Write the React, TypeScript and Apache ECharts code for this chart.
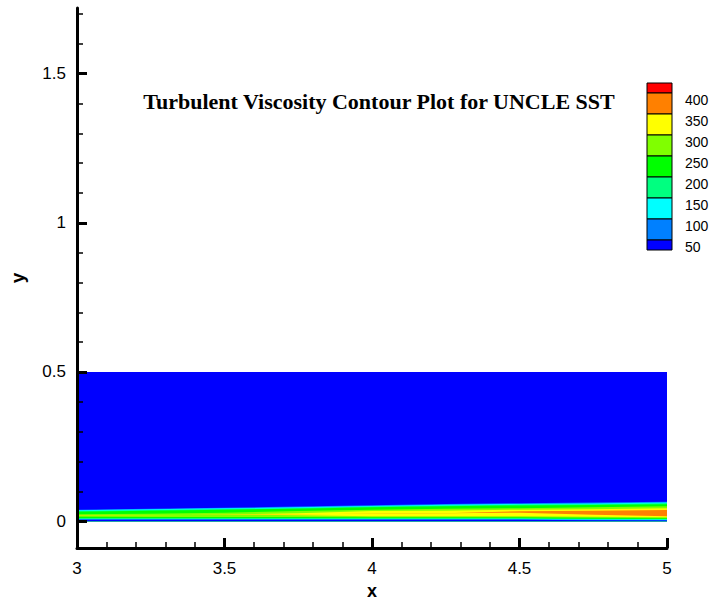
import React, { useEffect, useRef } from "react";
import * as echarts from "echarts";

// ---- data: contour-level crossing heights (y) at each x station ----
const xStations = [3, 3.25, 3.5, 3.75, 4, 4.25, 4.5, 4.75, 5];
// outer (edge-side) crossings
const outer50 = [0.0386, 0.0419, 0.0453, 0.0487, 0.0537, 0.0577, 0.0604, 0.0621, 0.0654];
const outer100 = [0.0362, 0.0396, 0.043, 0.0463, 0.051, 0.055, 0.0577, 0.0594, 0.0624];
const outer150 = [0.0342, 0.0376, 0.0406, 0.044, 0.0487, 0.0527, 0.0554, 0.057, 0.0597];
const outer200 = [0.0319, 0.0352, 0.0383, 0.0416, 0.0463, 0.0503, 0.0527, 0.0544, 0.0564];
const outer250 = [0.0235, 0.0252, 0.0285, 0.0336, 0.0386, 0.0419, 0.0436, 0.047, 0.0503];
const outer300 = [0.0191, 0.0201, 0.0218, 0.0268, 0.0336, 0.0352, 0.0386, 0.0403, 0.0436];
const outer350 = [0.0191, 0.0201, 0.0218, 0.0235, 0.0252, 0.0268, 0.0329, 0.0352, 0.0376];
// inner (wall-side) crossings
const inner350 = [0.0191, 0.0201, 0.0218, 0.0235, 0.0252, 0.0268, 0.0285, 0.0218, 0.0168];
const inner300 = [0.0191, 0.0201, 0.0218, 0.0201, 0.0168, 0.0168, 0.0168, 0.0151, 0.0134];
const inner250 = [0.0144, 0.0141, 0.0141, 0.0141, 0.0134, 0.0134, 0.0134, 0.0117, 0.0101];
const inner200 = [0.0101, 0.0101, 0.0101, 0.0101, 0.0101, 0.0101, 0.0101, 0.0084, 0.0074];
const inner150 = [0.0081, 0.0081, 0.0081, 0.0081, 0.0081, 0.0081, 0.0081, 0.0067, 0.0057];
const inner100 = [0.0067, 0.0067, 0.0067, 0.0067, 0.0067, 0.0067, 0.0067, 0.005, 0.004];
const inner50 = [0.0047, 0.0047, 0.0047, 0.0047, 0.0047, 0.0047, 0.0047, 0.0034, 0.0023];
const domainTop = 0.5;

// legend levels and colours (top to bottom)
const legendLevels = [400, 350, 300, 250, 200, 150, 100, 50];
const legendColors = ["#FF0000", "#FF8000", "#FFFF00", "#80FF00", "#00FF00", "#00FF80", "#00FFFF", "#0080FF", "#0000FF"];

// axis ticks
const yMajorTicks = [0, 0.5, 1, 1.5];
const yMinorTicks = [0.1, 0.2, 0.3, 0.4, 0.6, 0.7, 0.8, 0.9, 1.1, 1.2, 1.3, 1.4, 1.6, 1.7];

const titleText = "Turbulent Viscosity Contour Plot for UNCLE SST";

// band colours from the wall upward
const C = { org: "#FF8000", yel: "#FFFF00", yg: "#80FF00", grn: "#00FF00", gc: "#00FF80", cyn: "#00FFFF", lb: "#0080FF", blu: "#0000FF" };
const bandColors = [C.blu, C.lb, C.cyn, C.gc, C.grn, C.yg, C.yel, C.org, C.yel, C.yg, C.grn, C.gc, C.cyn, C.lb, C.blu];

const SANS = '"Liberation Sans", Arial, sans-serif';
const SERIF = '"Liberation Serif", "Times New Roman", serif';

export default function App() {
  const ref = useRef<HTMLDivElement>(null);
  useEffect(() => {
    const chart = echarts.init(ref.current!, null, { renderer: "svg" });
    const top = xStations.map(() => domainTop);
    // upper boundary of each band, from the wall upward
    const uppers = [inner50, inner100, inner150, inner200, inner250, inner300, inner350, outer350, outer300, outer250, outer200, outer150, outer100, outer50, top];

    // each band fills from y=0 to its upper boundary; lower bands are drawn on top
    const series: any[] = uppers.map((u, k) => ({
      type: "line",
      symbol: "none",
      silent: true,
      z: 1,
      lineStyle: { width: 0, opacity: 0 },
      areaStyle: { color: bandColors[k], opacity: 1, origin: 0 },
      data: xStations.map((x, i) => [x, u[i]]),
    }));
    series.reverse();

    const graphics: any[] = [];
    const lx = 647, lw = 25, ltop = 83, big = 21, small = 10;
    let yy = ltop;
    legendColors.forEach((c, i) => {
      const h = i === 0 || i === legendColors.length - 1 ? small : big;
      graphics.push({ type: "rect", shape: { x: lx, y: yy, width: lw, height: h }, style: { fill: c, stroke: "#000", lineWidth: 1 } });
      yy += h;
    });
    legendLevels.forEach((lv, j) => {
      graphics.push({
        type: "text",
        x: 685,
        y: 100 + j * 21,
        style: { text: String(lv), fontSize: 14, fontFamily: SANS, fill: "#000", align: "left", verticalAlign: "middle" },
      });
    });
    graphics.push({
      type: "text",
      x: 379,
      y: 101,
      style: { text: titleText, fontSize: 22, fontWeight: "bold", fontFamily: SERIF, fill: "#000", align: "center", verticalAlign: "middle" },
    });

    const axisLineStyle = { color: "#000", width: 3 };
    chart.setOption({
      animation: false,
      backgroundColor: "#fff",
      grid: { left: 77, right: 50, top: 8, bottom: 52, containLabel: false, outerBoundsMode: "none" },
      xAxis: {
        type: "value",
        min: 3,
        max: 5,
        interval: 0.5,
        z: 5,
        axisLine: { onZero: false, lineStyle: axisLineStyle },
        axisTick: { inside: true, length: 10, lineStyle: { color: "#000", width: 3 } },
        minorTick: { show: true, splitNumber: 5, length: 6, lineStyle: { color: "#000", width: 1.5 } },
        splitLine: { show: false },
        minorSplitLine: { show: false },
        axisLabel: { color: "#000", fontSize: 17, fontFamily: SANS, margin: 12 },
        name: "x",
        nameLocation: "middle",
        nameGap: 30,
        nameTextStyle: { color: "#000", fontSize: 18, fontWeight: "bold", fontFamily: SANS },
      },
      yAxis: [
        {
          type: "value",
          min: -0.09,
          max: 1.72,
          position: "left",
          z: 5,
          axisLine: { onZero: false, lineStyle: axisLineStyle },
          axisTick: { inside: true, length: 10, customValues: yMajorTicks, lineStyle: { color: "#000", width: 3 } },
          axisLabel: { customValues: yMajorTicks, color: "#000", fontSize: 17, fontFamily: SANS, margin: 11 },
          splitLine: { show: false },
          name: "y",
          nameLocation: "middle",
          nameGap: 50,
          nameTextStyle: { color: "#000", fontSize: 19, fontWeight: "bold", fontFamily: SANS },
        },
        {
          type: "value",
          min: -0.09,
          max: 1.72,
          position: "left",
          offset: 0,
          z: 5,
          axisLine: { show: false, onZero: false },
          axisTick: { inside: true, length: 6, customValues: yMinorTicks, lineStyle: { color: "#000", width: 1.5 } },
          axisLabel: { show: false },
          splitLine: { show: false },
        },
      ],
      series,
      graphic: graphics,
    });
    return () => chart.dispose();
  }, []);
  return <div ref={ref} style={{ position: "fixed", left: 0, top: 0, width: 717, height: 600 }} />;
}
